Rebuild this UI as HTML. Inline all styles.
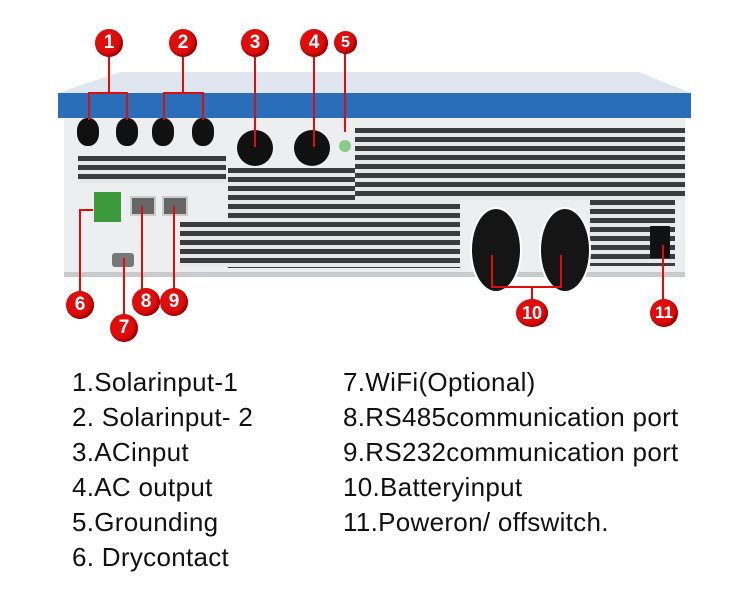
<!DOCTYPE html>
<html><head><style>
body{margin:0;width:741px;height:600px;background:#fff;position:relative;overflow:hidden;font-family:"Liberation Sans",sans-serif}
.a{position:absolute}
.v{position:absolute;background:repeating-linear-gradient(#3a3c40 0 5px,#e6e8ea 5px 9px)}
.c{position:absolute;width:28px;height:28px;border-radius:50%;background:#e00d0d;color:#fff;font:bold 19px "Liberation Sans",sans-serif;text-align:center;line-height:28px;box-shadow:inset -2px -2px 3px #900}
.r{position:absolute;background:#e00d0d}
.t{position:absolute;font-size:26px;letter-spacing:0.3px;color:#111;line-height:35px}
</style></head><body>
<svg class="a" style="left:0;top:0" width="741" height="340">
<polygon points="120,72 639,72 691,93 58,93" fill="#dfe6f0"/>
<rect x="58" y="93" width="633" height="25" fill="#2a6db8"/>
<rect x="64" y="118" width="621" height="159" fill="#eceef0"/>
<rect x="64" y="272" width="621" height="5" fill="#c8cacc"/>
</svg>
<div class="v" style="left:78px;top:156px;width:148px;height:27px"></div>
<div class="v" style="left:228px;top:168px;width:232px;height:100px"></div>
<div class="v" style="left:355px;top:128px;width:330px;height:72px"></div>
<div class="v" style="left:590px;top:200px;width:85px;height:66px"></div>
<div class="v" style="left:180px;top:222px;width:50px;height:45px"></div>
<div class="a" style="left:77px;top:118px;width:22px;height:28px;border-radius:45%;background:#111"></div>
<div class="a" style="left:116px;top:118px;width:22px;height:28px;border-radius:45%;background:#111"></div>
<div class="a" style="left:152px;top:118px;width:22px;height:28px;border-radius:45%;background:#111"></div>
<div class="a" style="left:192px;top:118px;width:22px;height:28px;border-radius:45%;background:#111"></div>
<div class="a" style="left:237px;top:130px;width:36px;height:36px;border-radius:50%;background:#111"></div>
<div class="a" style="left:294px;top:130px;width:36px;height:36px;border-radius:50%;background:#111"></div>
<div class="a" style="left:339px;top:140px;width:12px;height:12px;border-radius:50%;background:#8c8;"></div>
<div class="a" style="left:470px;top:207px;width:48px;height:82px;border-radius:50%;background:#151515;border:2px solid #fff"></div>
<div class="a" style="left:539px;top:207px;width:48px;height:82px;border-radius:50%;background:#151515;border:2px solid #fff"></div>
<div class="a" style="left:650px;top:226px;width:20px;height:32px;background:#111"></div>
<div class="a" style="left:94px;top:192px;width:27px;height:30px;background:#3c9a3c"></div>
<div class="a" style="left:130px;top:196px;width:22px;height:16px;background:#666;border:2px solid #ccc"></div>
<div class="a" style="left:162px;top:196px;width:22px;height:16px;background:#666;border:2px solid #ccc"></div>
<div class="a" style="left:112px;top:253px;width:22px;height:14px;background:#777;border-radius:3px"></div>
<div class="r" style="left:108px;top:55px;width:2px;height:38px"></div>
<div class="r" style="left:88px;top:92px;width:40px;height:2px"></div>
<div class="r" style="left:88px;top:92px;width:2px;height:28px"></div>
<div class="r" style="left:126px;top:92px;width:2px;height:28px"></div>
<div class="r" style="left:182px;top:55px;width:2px;height:38px"></div>
<div class="r" style="left:163px;top:92px;width:41px;height:2px"></div>
<div class="r" style="left:163px;top:92px;width:2px;height:28px"></div>
<div class="r" style="left:202px;top:92px;width:2px;height:28px"></div>
<div class="r" style="left:254px;top:55px;width:2px;height:92px"></div>
<div class="r" style="left:313px;top:55px;width:2px;height:92px"></div>
<div class="r" style="left:344px;top:52px;width:2px;height:80px"></div>
<div class="r" style="left:79px;top:210px;width:2px;height:85px"></div>
<div class="r" style="left:79px;top:209px;width:14px;height:2px"></div>
<div class="r" style="left:141px;top:206px;width:2px;height:90px"></div>
<div class="r" style="left:173px;top:206px;width:2px;height:90px"></div>
<div class="r" style="left:123px;top:258px;width:2px;height:60px"></div>
<div class="r" style="left:491px;top:255px;width:2px;height:33px"></div>
<div class="r" style="left:560px;top:255px;width:2px;height:33px"></div>
<div class="r" style="left:491px;top:286px;width:71px;height:2px"></div>
<div class="r" style="left:531px;top:286px;width:2px;height:20px"></div>
<div class="r" style="left:662px;top:245px;width:2px;height:60px"></div>
<div class="c" style="left:95px;top:29px">1</div>
<div class="c" style="left:169px;top:29px">2</div>
<div class="c" style="left:241px;top:29px">3</div>
<div class="c" style="left:300px;top:29px">4</div>
<div class="c" style="left:334px;top:31px;width:23px;height:23px;line-height:23px;font-size:16px">5</div>
<div class="c" style="left:66px;top:291px">6</div>
<div class="c" style="left:110px;top:314px">7</div>
<div class="c" style="left:132px;top:288px">8</div>
<div class="c" style="left:160px;top:288px">9</div>
<div class="c" style="left:516px;top:299px;width:32px;font-size:18px">10</div>
<div class="c" style="left:650px;top:299px;font-size:17px">11</div>
<div class="t" style="left:72px;top:365px">1.Solarinput-1<br>2. Solarinput- 2<br>3.ACinput<br>4.AC output<br>5.Grounding<br>6. Drycontact</div>
<div class="t" style="left:343px;top:365px">7.WiFi(Optional)<br>8.RS485communication port<br>9.RS232communication port<br>10.Batteryinput<br>11.Poweron/ offswitch.</div>
</body></html>
